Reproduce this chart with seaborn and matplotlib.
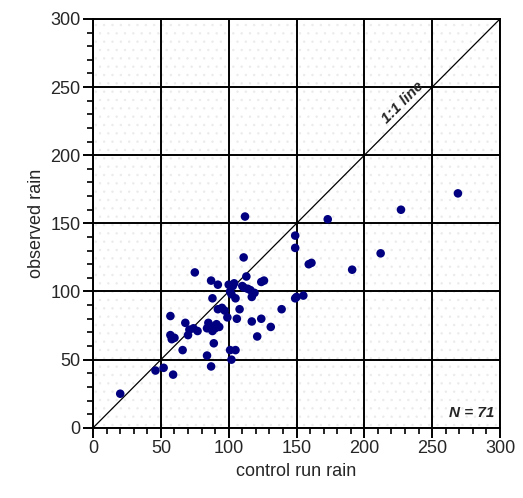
import matplotlib
matplotlib.use("Agg")
import matplotlib.pyplot as plt
import seaborn as sns
import pandas as pd
from matplotlib.ticker import MultipleLocator

control_run_rain = [20, 46, 52, 59, 57, 57, 58, 66, 68, 70, 71, 77, 84, 88, 91,
                    93, 85, 75, 84, 87, 89, 87, 88, 92, 92, 95, 99, 100, 104, 101,
                    102, 105, 108, 106, 101, 105, 102, 111, 112, 113, 111, 114, 117, 119, 117,
                    121, 124, 124, 126, 131, 139, 149, 149, 149, 155, 159, 161, 173, 191, 212,
                    227, 269, 116, 90, 74, 103, 86, 110, 97, 60, 150]
observed_rain = [25, 42, 44, 39, 82, 68, 65, 57, 77, 68, 72, 71, 73, 71, 76,
                 74, 77, 114, 53, 45, 62, 108, 95, 105, 87, 88, 81, 105, 106, 100,
                 98, 95, 87, 80, 57, 57, 50, 125, 155, 111, 103, 102, 96, 99, 78,
                 67, 80, 107, 108, 74, 87, 141, 132, 95, 97, 120, 121, 153, 116, 128,
                 160, 172, 101, 73, 73, 104, 75, 104, 86, 66, 96]

df = pd.DataFrame({"control run rain": control_run_rain, "observed rain": observed_rain})

sns.set_style("white")
plt.rcParams['font.family'] = ['Liberation Sans', 'DejaVu Sans']
plt.rcParams['hatch.linewidth'] = 0.5

fig = plt.figure(figsize=(5.23, 4.98), dpi=100)
ax = fig.add_axes([0.178, 0.141, 0.778, 0.821])

# faint stipple background
ax.add_patch(plt.Rectangle((0, 0), 300, 300, facecolor='white', edgecolor='#ebebeb',
                           hatch='..', linewidth=0, zorder=0))

ax.set_xlim(0, 300)
ax.set_ylim(0, 300)
ax.xaxis.set_major_locator(MultipleLocator(50))
ax.yaxis.set_major_locator(MultipleLocator(50))
ax.xaxis.set_minor_locator(MultipleLocator(10))
ax.yaxis.set_minor_locator(MultipleLocator(10))
ax.grid(True, which='major', color='black', linewidth=1.4, zorder=1)
ax.set_axisbelow(True)

ax.plot([0, 300], [0, 300], color='black', linewidth=0.9, zorder=2)

sns.scatterplot(data=df, x="control run rain", y="observed rain", ax=ax,
                color='#000080', s=38, edgecolor='none', zorder=3, legend=False)

ax.text(228, 239, "1:1 line", rotation=45, ha='center', va='center',
        fontsize=11, fontweight='bold', fontstyle='italic', zorder=4)
ax.text(296, 6, "N = 71", ha='right', va='bottom', fontsize=11,
        fontweight='bold', fontstyle='italic', zorder=4)

for s in ax.spines.values():
    s.set_color('black')
    s.set_linewidth(1.4)

ax.tick_params(axis='both', which='major', direction='out', length=7, width=1.4,
               color='black', labelsize=13, pad=2)
ax.tick_params(axis='both', which='minor', direction='out', length=4, width=1.2,
               color='black')
ax.tick_params(bottom=True, left=True, which='both')

ax.set_xlabel("control run rain", fontsize=13, labelpad=4)
ax.set_ylabel("observed rain", fontsize=13, labelpad=4)

fig.savefig("out.png", dpi=100)
